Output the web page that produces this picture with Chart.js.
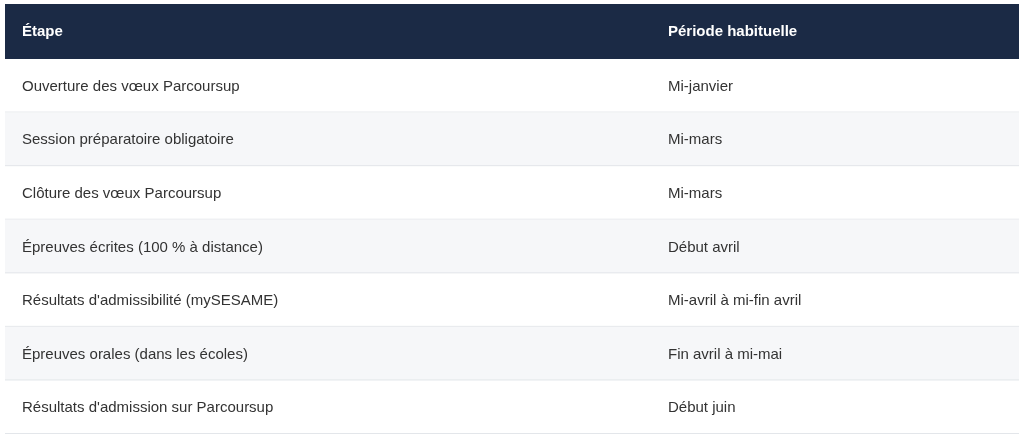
<!DOCTYPE html>
<html><head><meta charset="utf-8">
<script src="https://cdn.jsdelivr.net/npm/chart.js@4"></script>
<style>html,body{margin:0;padding:0;background:#fff}#w{width:1024px;height:439px}</style>
</head><body><div id="w"><canvas id="c"></canvas></div>
<script>
const headers = ["Étape", "Période habituelle"];
const steps = ["Ouverture des vœux Parcoursup","Session préparatoire obligatoire","Clôture des vœux Parcoursup","Épreuves écrites (100 % à distance)","Résultats d'admissibilité (mySESAME)","Épreuves orales (dans les écoles)","Résultats d'admission sur Parcoursup"];
const periods = ["Mi-janvier","Mi-mars","Mi-mars","Début avril","Mi-avril à mi-fin avril","Fin avril à mi-mai","Début juin"];
const FONT = '"Liberation Sans", Arial, sans-serif';
const tablePlugin = {
  id: 'table',
  beforeDatasetsDraw(chart) {
    const {ctx, chartArea: a, scales: {y}} = chart;
    const h = y.getPixelForValue(1) - y.getPixelForValue(0);
    ctx.save();
    // header
    ctx.fillStyle = '#1b2a45';
    ctx.fillRect(a.left, a.top - 55, a.right - a.left, 55);
    ctx.fillStyle = '#fff';
    ctx.font = 'bold 15px ' + FONT;
    ctx.textBaseline = 'middle';
    ctx.fillText(headers[0], a.left + 17, a.top - 27);
    ctx.fillText(headers[1], 668, a.top - 27);
    steps.forEach((s, i) => {
      const cy = y.getPixelForValue(i);
      if (i % 2 === 1) { ctx.fillStyle = '#f6f7f9'; ctx.fillRect(a.left, cy - h/2, a.right - a.left, h); }
      ctx.fillStyle = '#e3e6ea';
      ctx.fillRect(a.left, cy + h/2 - 1, a.right - a.left, 1);
      ctx.fillStyle = '#333';
      ctx.font = '15px ' + FONT;
      ctx.fillText(s, a.left + 17, cy + 1);
      ctx.fillText(periods[i], 668, cy + 1);
    });
    ctx.restore();
  }
};
new Chart(document.getElementById('c'), {
  type: 'bar',
  data: { labels: steps, datasets: [{ data: steps.map(() => 0) }] },
  options: {
    indexAxis: 'y', responsive: true, maintainAspectRatio: false, animation: false,
    layout: { padding: { left: 5, right: 5, top: 59, bottom: 5 } },
    plugins: { legend: { display: false }, tooltip: { enabled: false } },
    scales: {
      x: { display: false, min: 0, max: 1 },
      y: { display: false, offset: true }
    }
  },
  plugins: [tablePlugin]
});
</script></body></html>
